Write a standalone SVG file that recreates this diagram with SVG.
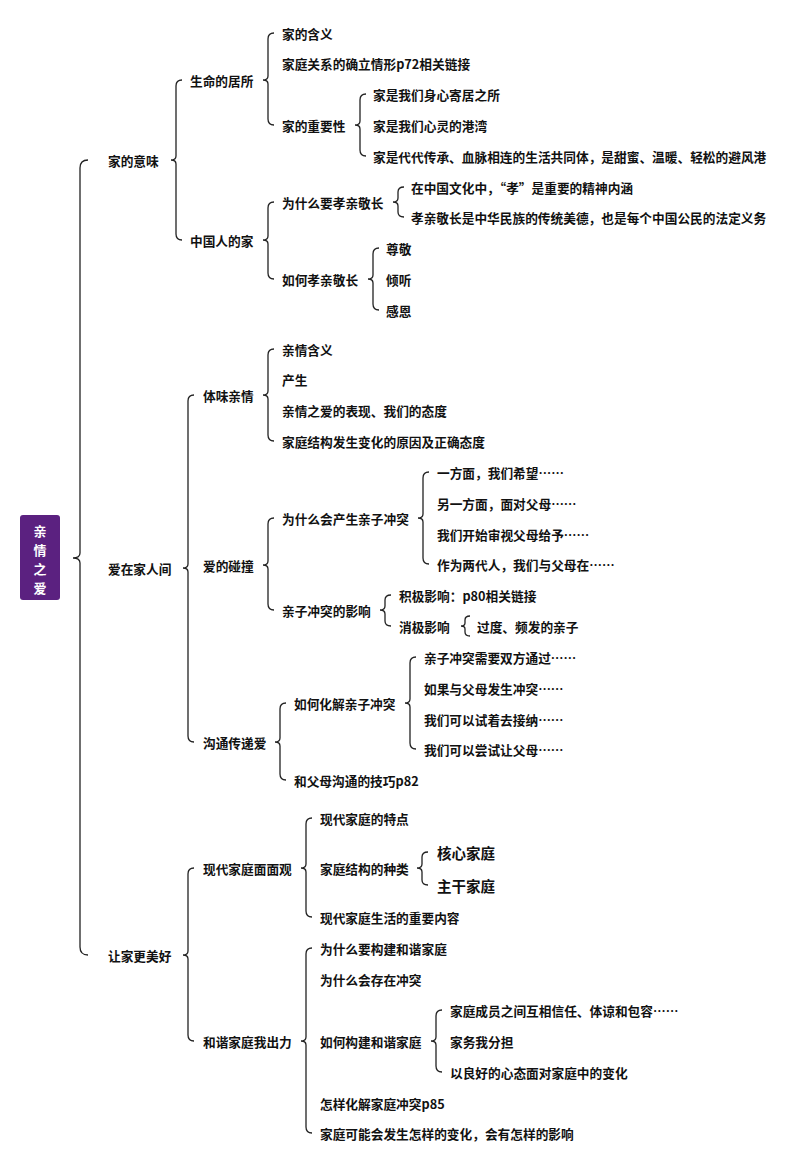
<svg xmlns="http://www.w3.org/2000/svg" width="794" height="1166" viewBox="0 0 794 1166">
<style>
text{font-family:"Noto Sans CJK SC","Noto Sans",sans-serif;font-size:12.7px;font-weight:bold;fill:#111;dominant-baseline:central}
.b{fill:none;stroke:#222;stroke-width:1.3}
.big{font-size:14.5px}
.r{fill:#fff;font-size:13px}
</style>
<rect width="794" height="1166" fill="#fff"/>
<g id="connectors">
<path class="b" d="M88 160 Q80 160 80 168 V553 Q80 558 73 558 Q80 558 80 563 V947 Q80 955 88 955"/>
<path class="b" d="M182 80 Q176 80 176 86 V156 Q176 160 171 160 Q176 160 176 164 V234 Q176 240 182 240"/>
<path class="b" d="M274 33 Q268 33 268 39 V76 Q268 80 263 80 Q268 80 268 84 V119 Q268 125 274 125"/>
<path class="b" d="M366 94 Q360 94 360 100 V121 Q360 125 355 125 Q360 125 360 129 V150 Q360 156 366 156"/>
<path class="b" d="M274 202 Q268 202 268 208 V236 Q268 240 263 240 Q268 240 268 244 V273 Q268 279 274 279"/>
<path class="b" d="M404 187 Q398 187 398 192 V198 Q398 202 393 202 Q398 202 398 206 V212 Q398 217 404 217"/>
<path class="b" d="M379 248 Q373 248 373 254 V275 Q373 279 368 279 Q373 279 373 283 V304 Q373 310 379 310"/>
<path class="b" d="M194 395 Q188 395 188 401 V564 Q188 568 183 568 Q188 568 188 572 V736 Q188 742 194 742"/>
<path class="b" d="M274 349 Q268 349 268 355 V391 Q268 395 263 395 Q268 395 268 399 V435 Q268 441 274 441"/>
<path class="b" d="M274 518 Q268 518 268 524 V561 Q268 565 263 565 Q268 565 268 569 V604 Q268 610 274 610"/>
<path class="b" d="M429 472 Q423 472 423 478 V514 Q423 518 418 518 Q423 518 423 522 V558 Q423 564 429 564"/>
<path class="b" d="M391 595 Q385 595 385 600 V606 Q385 610 380 610 Q385 610 385 614 V621 Q385 626 391 626"/>
<path class="b" d="M470 616 Q465 616 465 620 V623 Q465 626 461 626 Q465 626 465 629 V632 Q465 636 470 636"/>
<path class="b" d="M286 703 Q280 703 280 709 V738 Q280 742 275 742 Q280 742 280 746 V774 Q280 780 286 780"/>
<path class="b" d="M416 657 Q410 657 410 663 V699 Q410 703 405 703 Q410 703 410 707 V743 Q410 749 416 749"/>
<path class="b" d="M194 868 Q188 868 188 874 V951 Q188 955 183 955 Q188 955 188 959 V1035 Q188 1041 194 1041"/>
<path class="b" d="M312 818 Q306 818 306 824 V864 Q306 868 301 868 Q306 868 306 872 V911 Q306 917 312 917"/>
<path class="b" d="M428 852 Q422 852 422 857 V864 Q422 868 417 868 Q422 868 422 872 V880 Q422 885 428 885"/>
<path class="b" d="M312 948 Q306 948 306 954 V1037 Q306 1041 301 1041 Q306 1041 306 1045 V1127 Q306 1133 312 1133"/>
<path class="b" d="M442 1010 Q436 1010 436 1016 V1037 Q436 1041 431 1041 Q436 1041 436 1045 V1066 Q436 1072 442 1072"/>
</g>
<g id="root"><rect x="20" y="515" width="40" height="85" rx="3" fill="#5b2180"/>
<text class="r" x="40" y="530" text-anchor="middle">亲</text><text class="r" x="40" y="549" text-anchor="middle">情</text><text class="r" x="40" y="568" text-anchor="middle">之</text><text class="r" x="40" y="587" text-anchor="middle">爱</text></g>
<g id="n1"><text x="108" y="160">家的意味</text></g>
<g id="n2"><text x="190" y="80">生命的居所</text></g>
<g id="n3"><text x="282" y="33">家的含义</text><text x="282" y="63">家庭关系的确立情形p72相关链接</text><text x="282" y="125">家的重要性</text></g>
<g id="n4"><text x="373" y="94">家是我们身心寄居之所</text><text x="373" y="125">家是我们心灵的港湾</text><text x="373" y="156">家是代代传承、血脉相连的生活共同体，是甜蜜、温暖、轻松的避风港</text></g>
<g id="n5"><text x="190" y="240">中国人的家</text><text x="282" y="202">为什么要孝亲敬长</text><text x="282" y="279">如何孝亲敬长</text></g>
<g id="n6"><text x="411" y="187">在中国文化中，“孝”是重要的精神内涵</text><text x="411" y="217">孝亲敬长是中华民族的传统美德，也是每个中国公民的法定义务</text></g>
<g id="n7"><text x="386" y="248">尊敬</text><text x="386" y="279">倾听</text><text x="386" y="310">感恩</text></g>
<g id="n8"><text x="108" y="568">爱在家人间</text><text x="203" y="395">体味亲情</text><text x="203" y="565">爱的碰撞</text><text x="203" y="742">沟通传递爱</text></g>
<g id="n9"><text x="282" y="349">亲情含义</text><text x="282" y="379">产生</text><text x="282" y="410">亲情之爱的表现、我们的态度</text><text x="282" y="441">家庭结构发生变化的原因及正确态度</text></g>
<g id="n10"><text x="282" y="518">为什么会产生亲子冲突</text><text x="282" y="610">亲子冲突的影响</text></g>
<g id="n11"><text x="437" y="472">一方面，我们希望……</text><text x="437" y="503">另一方面，面对父母……</text><text x="437" y="534">我们开始审视父母给予……</text><text x="437" y="564">作为两代人，我们与父母在……</text></g>
<g id="n12"><text x="399" y="595">积极影响：p80相关链接</text><text x="399" y="626">消极影响</text><text x="477" y="626">过度、频发的亲子</text></g>
<g id="n13"><text x="294" y="703">如何化解亲子冲突</text><text x="294" y="780">和父母沟通的技巧p82</text></g>
<g id="n14"><text x="424" y="657">亲子冲突需要双方通过……</text><text x="424" y="688">如果与父母发生冲突……</text><text x="424" y="719">我们可以试着去接纳……</text><text x="424" y="749">我们可以尝试让父母……</text></g>
<g id="n15"><text x="108" y="955">让家更美好</text><text x="203" y="868">现代家庭面面观</text><text x="203" y="1041">和谐家庭我出力</text></g>
<g id="n16"><text x="320" y="818">现代家庭的特点</text><text x="320" y="868">家庭结构的种类</text><text x="320" y="917">现代家庭生活的重要内容</text><text class="big" x="437" y="852">核心家庭</text><text class="big" x="437" y="885">主干家庭</text></g>
<g id="n17"><text x="320" y="948">为什么要构建和谐家庭</text><text x="320" y="979">为什么会存在冲突</text><text x="320" y="1041">如何构建和谐家庭</text><text x="320" y="1103">怎样化解家庭冲突p85</text><text x="320" y="1133">家庭可能会发生怎样的变化，会有怎样的影响</text></g>
<g id="n18"><text x="450" y="1010">家庭成员之间互相信任、体谅和包容……</text><text x="450" y="1041">家务我分担</text><text x="450" y="1072">以良好的心态面对家庭中的变化</text></g>
</svg>
